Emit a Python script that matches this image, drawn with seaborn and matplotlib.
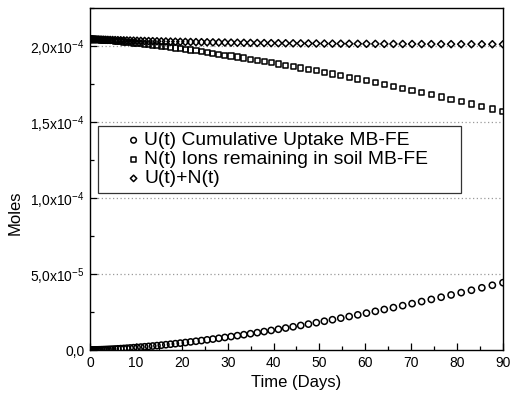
import matplotlib
matplotlib.use("Agg")
import matplotlib.pyplot as plt
import numpy as np
import pandas as pd
import seaborn as sns
from matplotlib.ticker import FixedLocator, MultipleLocator

# time points (days) of the model output
days = [0.00, 0.02, 0.06, 0.14, 0.24, 0.38, 0.55, 0.74, 0.97, 1.23,
        1.52, 1.84, 2.19, 2.57, 2.98, 3.42, 3.89, 4.39, 4.92, 5.48,
        6.07, 6.69, 7.35, 8.03, 8.74, 9.49, 10.26, 11.07, 11.90, 12.77,
        13.66, 14.59, 15.54, 16.53, 17.55, 18.60, 19.67, 20.78, 21.92, 23.09,
        24.29, 25.52, 26.78, 28.07, 29.39, 30.74, 32.12, 33.53, 34.97, 36.45,
        37.95, 39.48, 41.05, 42.64, 44.26, 45.92, 47.60, 49.32, 51.07, 52.84,
        54.65, 56.48, 58.35, 60.25, 62.18, 64.13, 66.12, 68.14, 70.19, 72.27,
        74.38, 76.52, 78.69, 80.89, 83.12, 85.39, 87.68, 90.00]

# values in units of 1e-5 mol
uptake = [0.0000, 0.0000, 0.0001, 0.0003, 0.0006, 0.0012, 0.0021, 0.0033, 0.0050, 0.0071,
          0.0097, 0.0129, 0.0168, 0.0213, 0.0266, 0.0327, 0.0397, 0.0477, 0.0566, 0.0666,
          0.0776, 0.0899, 0.1033, 0.1181, 0.1341, 0.1516, 0.1706, 0.1910, 0.2130, 0.2367,
          0.2620, 0.2891, 0.3180, 0.3487, 0.3814, 0.4160, 0.4527, 0.4915, 0.5325, 0.5756,
          0.6210, 0.6688, 0.7189, 0.7715, 0.8266, 0.8842, 0.9445, 1.0075, 1.0731, 1.1416,
          1.2130, 1.2872, 1.3644, 1.4446, 1.5280, 1.6144, 1.7041, 1.7970, 1.8933, 1.9929,
          2.0960, 2.2025, 2.3126, 2.4264, 2.5437, 2.6649, 2.7897, 2.9185, 3.0511, 3.1877,
          3.3283, 3.4730, 3.6219, 3.7749, 3.9321, 4.0937, 4.2596, 4.4300]

remaining = [20.450, 20.450, 20.449, 20.448, 20.446, 20.445, 20.442, 20.438, 20.434, 20.429,
             20.423, 20.416, 20.408, 20.400, 20.390, 20.379, 20.367, 20.354, 20.340, 20.325,
             20.308, 20.290, 20.271, 20.250, 20.228, 20.203, 20.178, 20.151, 20.122, 20.092,
             20.060, 20.026, 19.990, 19.953, 19.914, 19.872, 19.829, 19.784, 19.736, 19.686,
             19.635, 19.580, 19.524, 19.466, 19.404, 19.342, 19.276, 19.208, 19.136, 19.062,
             18.986, 18.907, 18.825, 18.740, 18.652, 18.562, 18.468, 18.371, 18.271, 18.167,
             18.061, 17.951, 17.837, 17.721, 17.600, 17.476, 17.349, 17.218, 17.083, 16.943,
             16.801, 16.654, 16.503, 16.349, 16.190, 16.026, 15.859, 15.687]

total = [20.450, 20.450, 20.449, 20.448, 20.447, 20.446, 20.444, 20.441, 20.439, 20.436,
         20.433, 20.429, 20.425, 20.421, 20.417, 20.412, 20.407, 20.402, 20.397, 20.392,
         20.386, 20.380, 20.374, 20.368, 20.362, 20.355, 20.349, 20.342, 20.335, 20.329,
         20.322, 20.315, 20.308, 20.302, 20.295, 20.288, 20.282, 20.275, 20.269, 20.262,
         20.256, 20.249, 20.243, 20.237, 20.231, 20.226, 20.220, 20.215, 20.209, 20.204,
         20.199, 20.194, 20.189, 20.185, 20.180, 20.176, 20.172, 20.168, 20.164, 20.160,
         20.157, 20.153, 20.150, 20.147, 20.144, 20.141, 20.139, 20.136, 20.134, 20.131,
         20.129, 20.127, 20.125, 20.124, 20.122, 20.120, 20.119, 20.117]

series_names = ["U(t) Cumulative Uptake MB-FE",
                "N(t) Ions remaining in soil MB-FE",
                "U(t)+N(t)"]

y_ticks = [0.0, 5e-5, 1e-4, 1.5e-4, 2e-4]
y_tick_labels = ["0,0", r"5,0x10$^{-5}$", r"1,0x10$^{-4}$",
                 r"1,5x10$^{-4}$", r"2,0x10$^{-4}$"]

sns.set_style("ticks")
plt.rcParams["font.family"] = ["Liberation Sans", "DejaVu Sans"]
plt.rcParams["mathtext.fontset"] = "custom"
plt.rcParams["mathtext.rm"] = "Liberation Sans"
plt.rcParams["mathtext.it"] = "Liberation Sans:italic"
plt.rcParams["text.color"] = "black"
plt.rcParams["axes.labelcolor"] = "black"
plt.rcParams["xtick.color"] = "black"
plt.rcParams["ytick.color"] = "black"

df = pd.concat([
    pd.DataFrame({"day": days, "moles": np.array(vals) * 1e-5, "series": name})
    for name, vals in zip(series_names, [uptake, remaining, total])
])

fig = plt.figure(figsize=(5.12, 4.03), dpi=100)
ax = fig.add_axes([0.1758, 0.1315, 0.8066, 0.8485])

# dotted horizontal guides at the major y ticks
for yv in y_ticks[1:]:
    ax.axhline(yv, color="#9a9a9a", lw=0.9, ls=(0, (1, 2)), zorder=0)

markers = {"U(t) Cumulative Uptake MB-FE": ("o", 20),
           "N(t) Ions remaining in soil MB-FE": ("s", 14),
           "U(t)+N(t)": ("D", 13)}
for name in series_names:
    m, s = markers[name]
    sub = df[df["series"] == name]
    sns.scatterplot(data=sub, x="day", y="moles", marker=m, s=s,
                    color="black", linewidth=1.1, label=name, ax=ax, zorder=3)
for coll in ax.collections:
    coll.set_facecolor("none")
    coll.set_edgecolor("black")

ax.set_xlim(0, 90)
ax.set_ylim(0, 2.25e-4)
ax.xaxis.set_major_locator(MultipleLocator(10))
ax.xaxis.set_minor_locator(MultipleLocator(5))
ax.yaxis.set_major_locator(FixedLocator(y_ticks))
ax.yaxis.set_minor_locator(MultipleLocator(2.5e-5))
ax.set_yticklabels(y_tick_labels)
ax.tick_params(which="both", direction="in", top=False, right=False,
               width=0.9, labelsize=10, pad=4)
ax.tick_params(which="major", length=5)
ax.tick_params(which="minor", length=3)
for sp in ax.spines.values():
    sp.set_linewidth(1.0)
    sp.set_color("black")

ax.set_xlabel("Time (Days)", fontsize=12, labelpad=4)
ax.set_ylabel("Moles", fontsize=12)
ax.yaxis.set_label_coords(-0.163, 0.40)

leg = ax.legend(loc="upper left", bbox_to_anchor=(0.019, 0.459, 0.879, 0.196),
                mode="expand", borderaxespad=0, frameon=True, fancybox=False,
                fontsize=13.9, handletextpad=-1.0, labelspacing=0.08,
                borderpad=0.3, handlelength=3.1, markerscale=0.9)
leg.get_frame().set_edgecolor("black")
leg.get_frame().set_linewidth(0.9)
for h in leg.legend_handles:
    h.set_facecolor("none")
    h.set_edgecolor("black")

fig.savefig("out.png", dpi=100)
